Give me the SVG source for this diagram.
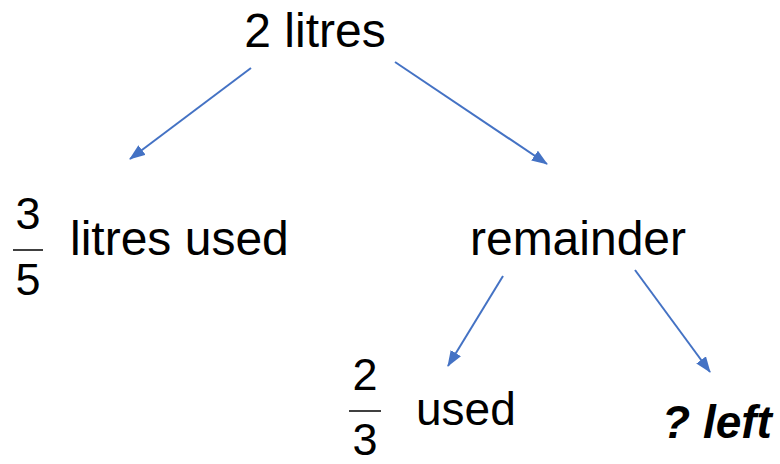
<svg xmlns="http://www.w3.org/2000/svg" width="780" height="464" viewBox="0 0 780 464">
  <style>
    .t { font-family: "Liberation Sans", Arial, sans-serif; font-size: 48px; fill: #000; }
    .s { font-size: 46px; }
    .frac { font-family: "Liberation Sans", Arial, sans-serif; font-size: 45px; fill: #000; text-anchor: middle; }
    .bar { stroke: #000; stroke-width: 1.5; }
    .edge { stroke: #4472C4; stroke-width: 2; fill: none; marker-end: url(#head); }
  </style>
  <defs>
    <marker id="head" viewBox="0 0 16 12" refX="15" refY="6" markerWidth="16" markerHeight="12" markerUnits="userSpaceOnUse" orient="auto">
      <path d="M0,0 L16,6 L0,12 Z" fill="#4472C4"/>
    </marker>
  </defs>

  <g id="connectors">
    <line class="edge" x1="251" y1="68" x2="130" y2="159"/>
    <line class="edge" x1="395" y1="62" x2="547" y2="164"/>
    <line class="edge" x1="503" y1="276" x2="448" y2="366"/>
    <line class="edge" x1="635" y1="270" x2="710" y2="372"/>
  </g>

  <g id="root">
    <text class="t" x="315" y="47" text-anchor="middle">2 litres</text>
  </g>

  <g id="used-first">
    <text class="frac" x="28" y="229">3</text>
    <line class="bar" x1="13" y1="250" x2="43" y2="250"/>
    <text class="frac" x="28" y="295">5</text>
    <text class="t" x="70" y="255">litres used</text>
  </g>

  <g id="remainder">
    <text class="t" x="578" y="255" text-anchor="middle">remainder</text>
  </g>

  <g id="used-second">
    <text class="frac" x="365" y="390">2</text>
    <line class="bar" x1="349" y1="411" x2="381" y2="411"/>
    <text class="frac" x="365" y="455">3</text>
    <text class="t s" x="416" y="425">used</text>
  </g>

  <g id="left">
    <text class="t s" x="662" y="438" font-weight="bold" font-style="italic">? left</text>
  </g>
</svg>
